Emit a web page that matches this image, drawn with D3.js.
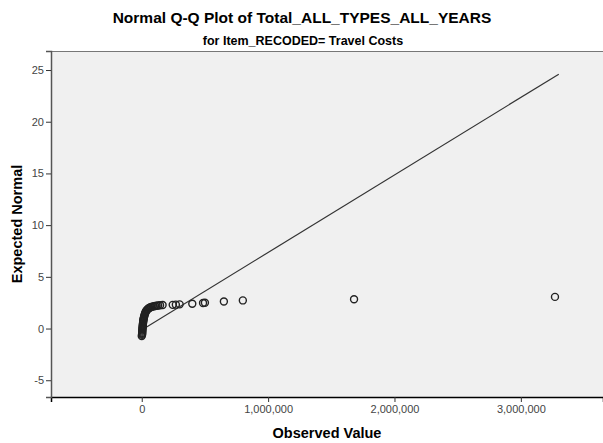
<!DOCTYPE html>
<html>
<head>
<meta charset="utf-8">
<script src="https://cdn.jsdelivr.net/npm/d3@7"></script>
<style>
  body { margin: 0; background: #fff; }
  text { font-family: "Liberation Sans", Arial, sans-serif; }
  .tick text { fill: #444; font-size: 11px; }
</style>
</head>
<body>
<svg id="chart" width="603" height="443"></svg>
<script>
var observed = [0, 3000, 3000, 4000, 4000, 5000, 5000, 6000, 7000, 8000, 8000, 9000,
  10000, 11000, 12000, 13000, 14000, 16000, 18000, 20000, 22000, 25000, 28000, 31000,
  35000, 40000, 45000, 51000, 58000, 66000, 75000, 85000, 95000, 106000, 118000, 130000,
  145000, 165000, 245000, 270000, 300000, 400000, 485000, 500000, 650000, 800000,
  1680000, 3270000];
var expected = [-0.72, -0.6, -0.5, -0.4, -0.3, -0.2, -0.1, 0, 0.1, 0.2, 0.3, 0.4,
  0.5, 0.6, 0.7, 0.8, 0.9, 1.0, 1.1, 1.2, 1.3, 1.4, 1.5, 1.6,
  1.7, 1.78, 1.85, 1.92, 1.98, 2.03, 2.08, 2.12, 2.15, 2.18, 2.21, 2.23,
  2.25, 2.27, 2.29, 2.31, 2.34, 2.4, 2.47, 2.5, 2.62, 2.72,
  2.84, 3.06];

// reference line end points
var lineX = [0, 3300000];
var lineY = [-0.14, 24.6];

var xTicks = [0, 1000000, 2000000, 3000000];
var yTicks = [-5, 0, 5, 10, 15, 20, 25];

var svg = d3.select("#chart"),
    width = +svg.attr("width"),
    height = +svg.attr("height");

var margin = {top: 51, right: 0, bottom: 46, left: 51};
var w = width - margin.left - margin.right,
    h = height - margin.top - margin.bottom;

var x = d3.scaleLinear().domain([-718000, 3650000]).range([0, w]);
var y = d3.scaleLinear().domain([-6.62, 26.84]).range([h, 0]);

// titles
svg.append("text")
  .attr("x", 302).attr("y", 23)
  .attr("text-anchor", "middle")
  .attr("font-size", "15.5px")
  .attr("font-weight", "bold")
  .text("Normal Q-Q Plot of Total_ALL_TYPES_ALL_YEARS");

svg.append("text")
  .attr("x", 303).attr("y", 45)
  .attr("text-anchor", "middle")
  .attr("font-size", "12.5px")
  .attr("font-weight", "bold")
  .text("for Item_RECODED= Travel Costs");

var g = svg.append("g")
  .attr("transform", "translate(" + margin.left + "," + margin.top + ")");

g.append("rect")
  .attr("width", w).attr("height", h)
  .attr("fill", "#f0f0f0");

// top frame line
g.append("line")
  .attr("x1", 0).attr("x2", w).attr("y1", 0.5).attr("y2", 0.5)
  .attr("stroke", "#777").attr("stroke-width", 1);

// axes
var xAxis = g.append("g")
  .attr("transform", "translate(0," + h + ")")
  .call(d3.axisBottom(x).tickValues(xTicks).tickFormat(d3.format(",")).tickSizeOuter(0).tickSize(5).tickPadding(3));
xAxis.select(".domain").attr("stroke", "#000").attr("stroke-width", 1.5);
xAxis.selectAll(".tick line").attr("stroke", "#333");

var yAxis = g.append("g")
  .call(d3.axisLeft(y).tickValues(yTicks).tickFormat(function(d) { return String(d); })
    .tickSizeOuter(0).tickSize(5).tickPadding(2));
yAxis.select(".domain").attr("stroke", "#555").attr("stroke-width", 1.5);
yAxis.selectAll(".tick line").attr("stroke", "#333");

// axis titles
svg.append("text")
  .attr("x", margin.left + w / 2).attr("y", 438)
  .attr("text-anchor", "middle")
  .attr("font-size", "14.5px")
  .attr("font-weight", "bold")
  .text("Observed Value");

svg.append("text")
  .attr("transform", "translate(22," + (margin.top + h / 2) + ") rotate(-90)")
  .attr("text-anchor", "middle")
  .attr("font-size", "14.5px")
  .attr("font-weight", "bold")
  .text("Expected Normal");

// reference line
g.append("line")
  .attr("x1", x(lineX[0])).attr("y1", y(lineY[0]))
  .attr("x2", x(lineX[1])).attr("y2", y(lineY[1]))
  .attr("stroke", "#333").attr("stroke-width", 1.2);

// points
g.selectAll(".pt")
  .data(d3.range(observed.length))
  .enter().append("circle")
    .attr("class", "pt")
    .attr("cx", function(i) { return x(observed[i]); })
    .attr("cy", function(i) { return y(expected[i]); })
    .attr("r", 3.5)
    .attr("fill", "none")
    .attr("stroke", "#222")
    .attr("stroke-width", 1.4);
</script>
</body>
</html>
